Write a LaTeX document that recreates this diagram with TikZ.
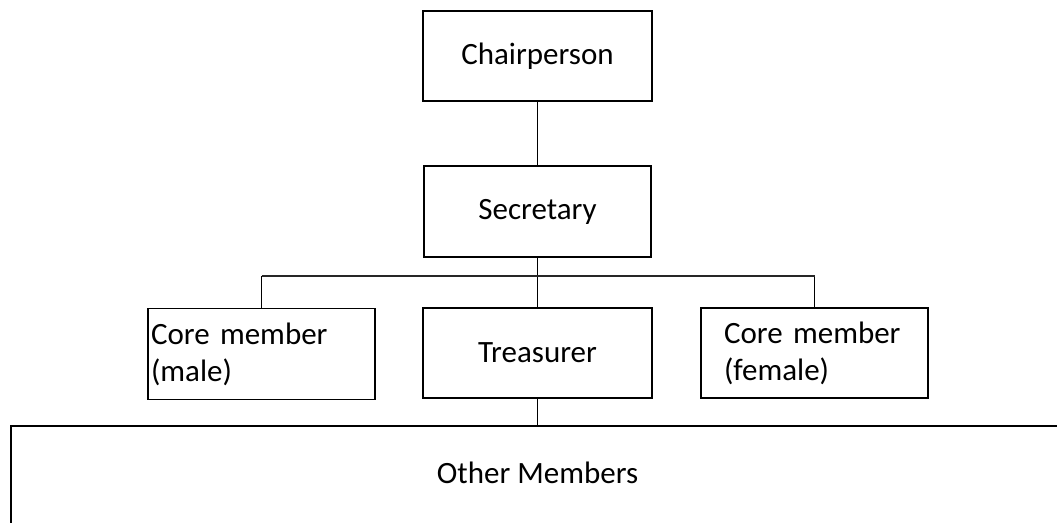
\documentclass[tikz,border=0pt]{standalone}
\usepackage{fontspec}
\setmainfont{Carlito}
\begin{document}
\begin{tikzpicture}[x=1pt,y=-1pt,
  box/.style={draw=black, line width=1.1pt, minimum width=229pt, minimum height=90pt, inner sep=0pt, font=\fontsize{31}{37}\selectfont},
  wire/.style={draw=black, line width=1.2pt},
  busline/.style={draw=black!85, line width=2pt}]
\useasboundingbox (0,0) rectangle (1057,522);
\clip (0,0) rectangle (1057,522);
\node[box] (chair) at (537.5,56) {Chairperson};
\node[box, minimum width=227pt, minimum height=91pt] (sec) at (537.5,211.5) {Secretary};
\node[box] (tre) at (537.5,353) {Treasurer};
\node[box, minimum width=227pt, minimum height=91pt, text width=221pt, align=left, inner xsep=3pt] (male) at (261.5,354) {Core member\\(male)};
\node[box, minimum width=227pt, text width=181pt, align=left, inner xsep=23pt] (female) at (814.5,353) {Core member\\(female)};
\node[box, line width=1.8pt, minimum width=1053pt, minimum height=120pt, text height=22pt, text depth=28pt] (other) at (537.5,486) {Other Members};
\coordinate (busy) at (537.5,276);
\draw[wire] (chair.south) -- (sec.north);
\draw[wire] (sec.south) -- (tre.north);
\draw[wire] (tre.south) -- (other.north);
\draw[wire] (male.north) -- (male.north |- busy);
\draw[wire] (female.north) -- (female.north |- busy);
\draw[busline] (male.north |- busy) -- (female.north |- busy);
\end{tikzpicture}
\end{document}
